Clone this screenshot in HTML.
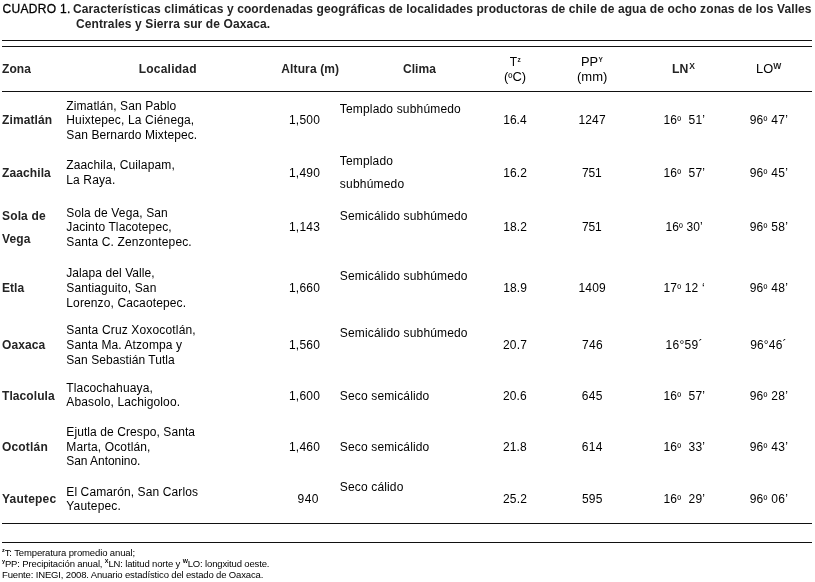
<!DOCTYPE html>
<html lang="es"><head><meta charset="utf-8"><title>CUADRO 1</title>
<style>
html,body{margin:0;padding:0;background:#fff;}
body{width:815px;height:582px;position:relative;overflow:hidden;font-family:"Liberation Sans",Arial,sans-serif;color:#000;font-size:12px;}
#w{position:absolute;left:0;top:0;width:815px;height:582px;will-change:transform;}
table,caption,thead,tbody,tfoot,tr,th,td{display:contents;font-weight:normal;}
.t{display:block;position:absolute;white-space:nowrap;line-height:14px;height:14px;}
.b{font-weight:bold;color:#242424;}
.hl{position:absolute;left:2px;width:810px;height:1px;background:#111;border:0;margin:0;padding:0;}
.o{font-size:10.5px;position:relative;top:-0.4px;}
.fz{font-size:5.5px;font-weight:bold;position:relative;top:-3.6px;}
.fx{font-size:5.5px;font-weight:bold;position:relative;top:-3.6px;}

</style></head><body><div id="w">
<table>
<caption><span id="t1" class="t" style="left:2.50px;top:2.14px;letter-spacing:0.319px;-webkit-text-stroke:0.3px #000;">CUADRO 1.</span><span id="t2" class="t b" style="left:73.00px;top:2.14px;letter-spacing:0.116px;">Características climáticas y coordenadas geográficas de localidades productoras de chile de agua de ocho zonas de los Valles</span><span id="t3" class="t b" style="left:76.00px;top:17.14px;letter-spacing:0.105px;">Centrales y Sierra sur de Oaxaca.</span></caption>
<thead><tr><td colspan="8"><hr class="hl" style="top:40px"><hr class="hl" style="top:46px"></td></tr>
<tr><th><span id="h1" class="t b" style="left:2.00px;top:62.14px;letter-spacing:0.083px;">Zona</span></th><th><span id="h2" class="t b" style="left:138.75px;top:62.14px;letter-spacing:0.212px;">Localidad</span></th><th><span id="h3" class="t b" style="left:281.25px;top:62.14px;letter-spacing:0.133px;">Altura (m)</span></th><th><span id="h4" class="t b" style="left:402.95px;top:62.14px;letter-spacing:0.050px;">Clima</span></th><th><span id="h5" class="t" style="left:509.85px;top:55.14px;">T</span><span id="h5z" class="t b" style="left:517.55px;top:53.05px;font-size:6.5px;">z</span><span id="h5b" class="t" style="left:503.90px;top:70.14px;transform:scaleX(1.0780);transform-origin:0 0;">(<span class="o">º</span>C)</span></th><th><span id="h6" class="t" style="left:580.95px;top:55.14px;transform:scaleX(1.0705);transform-origin:0 0;">PP</span><span id="h6y" class="t b" style="left:598.60px;top:53.05px;font-size:6.5px;">Y</span><span id="h6b" class="t" style="left:577.30px;top:70.14px;transform:scaleX(1.0849);transform-origin:0 0;">(mm)</span></th><th><span id="h7" class="t b" style="left:672.15px;top:62.14px;transform:scaleX(1.0180);transform-origin:0 0;">LN</span><span id="h7x" class="t b" style="left:689.25px;top:59.35px;font-size:8.5px;">X</span></th><th><span id="h8" class="t" style="left:755.65px;top:62.14px;transform:scaleX(1.0691);transform-origin:0 0;">LO</span><span id="h8w" class="t b" style="left:773.13px;top:59.35px;font-size:8.5px;">W</span></th></tr>
<tr><td colspan="8"><hr class="hl" style="top:91px"></td></tr></thead>
<tbody>
<tr><td><span id="z0_0" class="t b" style="left:2.00px;top:113.14px;letter-spacing:0.114px;">Zimatlán</span></td><td><span id="l0_0" class="t" style="left:66.30px;top:99.14px;letter-spacing:0.106px;">Zimatlán, San Pablo</span><span id="l0_1" class="t" style="left:66.30px;top:113.14px;letter-spacing:0.150px;">Huixtepec, La Ciénega,</span><span id="l0_2" class="t" style="left:66.30px;top:128.14px;letter-spacing:0.102px;">San Bernardo Mixtepec.</span></td><td><span id="a0" class="t" style="left:289.00px;top:113.14px;letter-spacing:0.200px;">1,500</span></td><td><span id="c0_0" class="t" style="left:339.80px;top:102.14px;letter-spacing:0.171px;">Templado subhúmedo</span></td><td><span id="T0" class="t" style="left:503.30px;top:113.14px;letter-spacing:-0.017px;">16.4</span></td><td><span id="PP0" class="t" style="left:578.45px;top:113.14px;letter-spacing:0.150px;">1247</span></td><td><span id="LN0" class="t" style="left:663.40px;top:113.14px;letter-spacing:0.243px;">16<span class="o">º</span>&nbsp; 51’</span></td><td><span id="LO0" class="t" style="left:749.65px;top:113.14px;letter-spacing:0.300px;">96<span class="o">º</span> 47’</span></td></tr>
<tr><td><span id="z1_0" class="t b" style="left:2.00px;top:166.14px;letter-spacing:0.107px;">Zaachila</span></td><td><span id="l1_0" class="t" style="left:66.30px;top:158.14px;letter-spacing:0.133px;">Zaachila, Cuilapam,</span><span id="l1_1" class="t" style="left:66.30px;top:173.14px;letter-spacing:0.129px;">La Raya.</span></td><td><span id="a1" class="t" style="left:289.00px;top:166.14px;letter-spacing:0.200px;">1,490</span></td><td><span id="c1_0" class="t" style="left:339.80px;top:154.14px;letter-spacing:0.150px;">Templado</span><span id="c1_1" class="t" style="left:339.80px;top:177.14px;letter-spacing:0.206px;">subhúmedo</span></td><td><span id="T1" class="t" style="left:503.30px;top:166.14px;letter-spacing:0.067px;">16.2</span></td><td><span id="PP1" class="t" style="left:582.05px;top:166.14px;letter-spacing:-0.150px;">751</span></td><td><span id="LN1" class="t" style="left:663.40px;top:166.14px;letter-spacing:0.243px;">16<span class="o">º</span>&nbsp; 57’</span></td><td><span id="LO1" class="t" style="left:749.65px;top:166.14px;letter-spacing:0.300px;">96<span class="o">º</span> 45’</span></td></tr>
<tr><td><span id="z2_0" class="t b" style="left:2.00px;top:209.14px;letter-spacing:0.150px;">Sola de</span><span id="z2_1" class="t b" style="left:2.00px;top:232.14px;letter-spacing:0.150px;">Vega</span></td><td><span id="l2_0" class="t" style="left:66.30px;top:206.14px;letter-spacing:0.128px;">Sola de Vega, San</span><span id="l2_1" class="t" style="left:66.30px;top:220.14px;letter-spacing:0.122px;">Jacinto Tlacotepec,</span><span id="l2_2" class="t" style="left:66.30px;top:235.14px;letter-spacing:0.132px;">Santa C. Zenzontepec.</span></td><td><span id="a2" class="t" style="left:289.00px;top:220.14px;letter-spacing:0.200px;">1,143</span></td><td><span id="c2_0" class="t" style="left:339.80px;top:209.14px;letter-spacing:0.158px;">Semicálido subhúmedo</span></td><td><span id="T2" class="t" style="left:503.30px;top:220.14px;letter-spacing:0.067px;">18.2</span></td><td><span id="PP2" class="t" style="left:582.05px;top:220.14px;letter-spacing:-0.150px;">751</span></td><td><span id="LN2" class="t" style="left:665.40px;top:220.14px;letter-spacing:0.117px;">16<span class="o">º</span> 30’</span></td><td><span id="LO2" class="t" style="left:749.65px;top:220.14px;letter-spacing:0.300px;">96<span class="o">º</span> 58’</span></td></tr>
<tr><td><span id="z3_0" class="t b" style="left:2.00px;top:281.14px;letter-spacing:0.033px;">Etla</span></td><td><span id="l3_0" class="t" style="left:66.30px;top:266.14px;letter-spacing:0.075px;">Jalapa del Valle,</span><span id="l3_1" class="t" style="left:66.30px;top:281.14px;letter-spacing:0.130px;">Santiaguito, San</span><span id="l3_2" class="t" style="left:66.30px;top:296.14px;letter-spacing:0.121px;">Lorenzo, Cacaotepec.</span></td><td><span id="a3" class="t" style="left:289.00px;top:281.14px;letter-spacing:0.200px;">1,660</span></td><td><span id="c3_0" class="t" style="left:339.80px;top:269.14px;letter-spacing:0.158px;">Semicálido subhúmedo</span></td><td><span id="T3" class="t" style="left:503.30px;top:281.14px;letter-spacing:0.067px;">18.9</span></td><td><span id="PP3" class="t" style="left:578.45px;top:281.14px;letter-spacing:0.200px;">1409</span></td><td><span id="LN3" class="t" style="left:663.40px;top:281.14px;letter-spacing:0.207px;">17<span class="o">º</span> 12 ‘</span></td><td><span id="LO3" class="t" style="left:749.65px;top:281.14px;letter-spacing:0.300px;">96<span class="o">º</span> 48’</span></td></tr>
<tr><td><span id="z4_0" class="t b" style="left:2.00px;top:338.14px;letter-spacing:0.080px;">Oaxaca</span></td><td><span id="l4_0" class="t" style="left:66.30px;top:323.14px;letter-spacing:0.155px;">Santa Cruz Xoxocotlán,</span><span id="l4_1" class="t" style="left:66.30px;top:338.14px;letter-spacing:0.086px;">Santa Ma. Atzompa y</span><span id="l4_2" class="t" style="left:66.30px;top:353.14px;letter-spacing:0.058px;">San Sebastián Tutla</span></td><td><span id="a4" class="t" style="left:289.00px;top:338.14px;letter-spacing:0.200px;">1,560</span></td><td><span id="c4_0" class="t" style="left:339.80px;top:326.14px;letter-spacing:0.158px;">Semicálido subhúmedo</span></td><td><span id="T4" class="t" style="left:503.05px;top:338.14px;letter-spacing:0.150px;">20.7</span></td><td><span id="PP4" class="t" style="left:582.05px;top:338.14px;letter-spacing:0.275px;">746</span></td><td><span id="LN4" class="t" style="left:665.40px;top:338.14px;letter-spacing:0.340px;">16°59´</span></td><td><span id="LO4" class="t" style="left:750.15px;top:338.14px;letter-spacing:0.190px;">96°46´</span></td></tr>
<tr><td><span id="z5_0" class="t b" style="left:2.00px;top:389.14px;letter-spacing:0.081px;">Tlacolula</span></td><td><span id="l5_0" class="t" style="left:66.30px;top:381.14px;letter-spacing:0.142px;">Tlacochahuaya,</span><span id="l5_1" class="t" style="left:66.30px;top:395.14px;letter-spacing:0.121px;">Abasolo, Lachigoloo.</span></td><td><span id="a5" class="t" style="left:289.00px;top:389.14px;letter-spacing:0.200px;">1,600</span></td><td><span id="c5_0" class="t" style="left:339.80px;top:389.14px;letter-spacing:0.150px;">Seco semicálido</span></td><td><span id="T5" class="t" style="left:503.05px;top:389.14px;letter-spacing:0.067px;">20.6</span></td><td><span id="PP5" class="t" style="left:581.70px;top:389.14px;letter-spacing:0.350px;">645</span></td><td><span id="LN5" class="t" style="left:663.40px;top:389.14px;letter-spacing:0.243px;">16<span class="o">º</span>&nbsp; 57’</span></td><td><span id="LO5" class="t" style="left:749.65px;top:389.14px;letter-spacing:0.300px;">96<span class="o">º</span> 28’</span></td></tr>
<tr><td><span id="z6_0" class="t b" style="left:2.00px;top:440.14px;letter-spacing:0.175px;">Ocotlán</span></td><td><span id="l6_0" class="t" style="left:66.30px;top:425.14px;letter-spacing:0.091px;">Ejutla de Crespo, Santa</span><span id="l6_1" class="t" style="left:66.30px;top:440.14px;letter-spacing:0.150px;">Marta, Ocotlán,</span><span id="l6_2" class="t" style="left:66.30px;top:454.14px;letter-spacing:-0.054px;">San Antonino.</span></td><td><span id="a6" class="t" style="left:289.00px;top:440.14px;letter-spacing:0.200px;">1,460</span></td><td><span id="c6_0" class="t" style="left:339.80px;top:440.14px;letter-spacing:0.150px;">Seco semicálido</span></td><td><span id="T6" class="t" style="left:503.05px;top:440.14px;letter-spacing:0.067px;">21.8</span></td><td><span id="PP6" class="t" style="left:581.70px;top:440.14px;letter-spacing:0.350px;">614</span></td><td><span id="LN6" class="t" style="left:663.40px;top:440.14px;letter-spacing:0.243px;">16<span class="o">º</span>&nbsp; 33’</span></td><td><span id="LO6" class="t" style="left:749.65px;top:440.14px;letter-spacing:0.300px;">96<span class="o">º</span> 43’</span></td></tr>
<tr><td><span id="z7_0" class="t b" style="left:2.00px;top:492.14px;letter-spacing:0.200px;">Yautepec</span></td><td><span id="l7_0" class="t" style="left:66.30px;top:485.14px;letter-spacing:0.107px;">El Camarón, San Carlos</span><span id="l7_1" class="t" style="left:66.30px;top:499.14px;letter-spacing:0.175px;">Yautepec.</span></td><td><span id="a7" class="t" style="left:297.50px;top:492.14px;letter-spacing:0.475px;">940</span></td><td><span id="c7_0" class="t" style="left:339.80px;top:480.14px;letter-spacing:0.150px;">Seco cálido</span></td><td><span id="T7" class="t" style="left:503.05px;top:492.14px;letter-spacing:0.150px;">25.2</span></td><td><span id="PP7" class="t" style="left:581.95px;top:492.14px;letter-spacing:0.225px;">595</span></td><td><span id="LN7" class="t" style="left:663.40px;top:492.14px;letter-spacing:0.243px;">16<span class="o">º</span>&nbsp; 29’</span></td><td><span id="LO7" class="t" style="left:749.65px;top:492.14px;letter-spacing:0.300px;">96<span class="o">º</span> 06’</span></td></tr>
</tbody>
<tfoot><tr><td colspan="8"><hr class="hl" style="top:523px"><hr class="hl" style="top:542px"><span id="f1" class="t" style="left:2.00px;top:546.01px;letter-spacing:-0.120px;font-size:9.5px;"><span class="fz">z</span>T: Temperatura promedio anual;</span><span id="f2" class="t" style="left:2.00px;top:557.01px;letter-spacing:-0.143px;font-size:9.5px;"><span class="fz">y</span>PP: Precipitación anual, <span class="fx">X</span>LN: latitud norte y <span class="fx">W</span>LO: longxitud oeste.</span><span id="f3" class="t" style="left:2.00px;top:568.01px;letter-spacing:-0.148px;font-size:9.5px;">Fuente: INEGI, 2008. Anuario estadístico del estado de Oaxaca.</span></td></tr></tfoot>
</table>
</div></body></html>
